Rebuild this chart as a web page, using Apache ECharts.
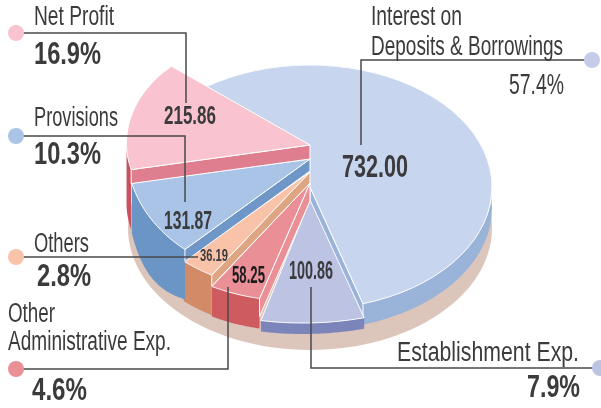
<!DOCTYPE html>
<html>
<head>
<meta charset="utf-8">
<title>Expenditure split</title>
<style>
html,body{margin:0;padding:0;background:#fff;overflow:hidden}
#chart{width:601px;height:408px}
</style>
<script src="https://cdn.jsdelivr.net/npm/echarts@6/dist/echarts.min.js"></script>
</head>
<body>
<div id="chart"></div>
<script>
// values, clockwise from the big slice
var sliceNames = ['Interest on Deposits & Borrowings', 'Establishment Exp.', 'Other Administrative Exp.', 'Others', 'Provisions', 'Net Profit'];
var sliceValues = [732.00, 100.86, 58.25, 36.19, 131.87, 215.86];
var slicePercents = ['57.4%', '7.9%', '4.6%', '2.8%', '10.3%', '16.9%'];

var START_DEG = -43.6;
var FONT = '"Liberation Sans Narrow","Liberation Sans",sans-serif';
var INK = '#3b3a3c';

// look of each slice: where its rim ellipse sits, how the walls hang, colours
var sliceLook = [
    {cx: 310, cy: 187, a: 182, b: 122, tipY: 187, side: 'end', drop: 20, wall: 21, bulge: 0, top: '#c7d5ef', sideColor: '#9ab3d9', wallColor: '#9ab3d9', dot: '#c5cbe8'},
    {cx: 303, cy: 201, a: 210, b: 122, tipY: 200, side: '', drop: 0, wall: 11, bulge: 0, top: '#bcc3e3', sideColor: '#7b85ba', wallColor: '#7b85ba', dot: '#bcc3e3'},
    {cx: 295, cy: 177, a: 177, b: 124, tipY: 183, side: 'start', drop: 18, wall: 30, bulge: 0, top: '#e98f95', sideColor: '#e98f95', wallColor: '#cd5b60', dot: '#e98f95'},
    {cx: 300, cy: 148, a: 188, b: 144, tipY: 172, side: 'start', drop: 11, wall: 40, bulge: 0, top: '#f9c3aa', sideColor: '#dea582', wallColor: '#d28b66', dot: '#f9c3aa'},
    {cx: 279, cy: 152, a: 152, b: 124, tipY: 159, side: 'start', drop: 12, wall: 50, bulge: 8, top: '#a9c4e6', sideColor: '#6e96c6', wallColor: '#6b95c5', dot: '#a9c4e6'},
    {cx: 271.5, cy: 143, a: 145, b: 106, tipY: 145, side: 'start', drop: 14, wall: 60, bulge: 0, wallSpan: 13, top: '#f9c4cf', sideColor: '#df7e8e', wallColor: '#c9515f', dot: '#f9c4cf'}
];
var TIP_X = 310;

// [text, x, mid y, font size, bold, width to fit, colour]
var textLabels = [
    ['Net Profit', 34, 18, 27, false, 80, INK],
    [slicePercents[5], 34, 55, 31, true, 67, INK],
    ['Provisions', 34, 119, 27, false, 84, INK],
    [slicePercents[4], 34, 155, 31, true, 67, INK],
    ['Others', 34, 245, 27, false, 55, INK],
    [slicePercents[3], 37, 277, 31, true, 54, INK],
    ['Other', 8, 315, 27, false, 47, INK],
    ['Administrative Exp.', 8, 343, 27, false, 163, INK],
    [slicePercents[2], 32, 391, 31, true, 55, INK],
    ['Interest on', 371, 18, 27, false, 91, INK],
    ['Deposits & Borrowings', 371, 48, 27, false, 192, INK],
    [slicePercents[0], 509, 86, 29, false, 55, INK],
    ['Establishment Exp.', 397, 354, 27, false, 182, INK],
    [slicePercents[1], 527, 388, 31, true, 53, INK],
    [sliceValues[5].toFixed(2), 164, 117, 26, true, 52, INK],
    [sliceValues[0].toFixed(2), 342, 168, 32, true, 66, INK],
    [sliceValues[4].toFixed(2), 164, 222, 26, true, 48, INK],
    [sliceValues[3].toFixed(2), 200, 256, 17, true, 28, INK],
    [sliceValues[2].toFixed(2), 232, 276, 24, true, 33, '#1d1c1e'],
    [sliceValues[1].toFixed(2), 289, 272, 26, true, 44, INK]
];

// leader lines, and the dot each one starts from
var leaderLines = [
    {look: 5, points: [[16, 33], [186, 33], [186, 103]]},
    {look: 4, points: [[16, 136], [185, 136], [185, 202]]},
    {look: 3, points: [[16, 257], [198, 257]]},
    {look: 2, points: [[16, 369], [228, 369], [228, 287]]},
    {look: 0, points: [[592, 60], [361, 60], [361, 145]]},
    {look: 1, points: [[600, 368], [311, 368], [311, 287]]}
];

var total = sliceValues.reduce(function (s, v) { return s + v; }, 0);

function rimPoint(look, deg, dy) {
    var t = deg * Math.PI / 180;
    return [look.cx + look.a * Math.sin(t), look.cy - look.b * Math.cos(t) + (dy || 0)];
}

function arcPoints(look, from, to, dyAt) {
    var out = [], n = 48, i;
    for (i = 0; i <= n; i++) {
        out.push(rimPoint(look, from + (to - from) * i / n, dyAt ? dyAt(i / n) : 0));
    }
    return out;
}

function renderBase() {
    return {
        type: 'ellipse',
        shape: {cx: 310, cy: 228, rx: 182, ry: 122},
        style: {fill: '#dcc5bb'}
    };
}

function renderSlice(params, api) {
    var idx = params.dataIndex;
    var look = sliceLook[idx];
    var before = 0, i;
    for (i = 0; i < idx; i++) before += sliceValues[i];
    var t0 = START_DEG + before / total * 360;
    var t1 = t0 + api.value(0) / total * 360;
    var kids = [];

    // outer wall
    var wallEnd = look.wallSpan ? t0 + look.wallSpan : t1;
    var upper = arcPoints(look, t0, wallEnd);
    var lower = arcPoints(look, t0, wallEnd, function (u) {
        return look.wall + look.bulge * Math.sin(Math.PI * u);
    }).reverse();
    kids.push({type: 'polygon', shape: {points: upper.concat(lower)}, style: {fill: look.wallColor}});

    // cut face of the slice
    if (look.side) {
        var at = look.side === 'start' ? t0 : t1;
        var c = rimPoint(look, at);
        kids.push({
            type: 'polygon',
            shape: {points: [[TIP_X, look.tipY], c, [c[0], c[1] + look.drop], [TIP_X, look.tipY + look.drop]]},
            style: {fill: look.sideColor, stroke: '#fff', lineWidth: 1}
        });
    }

    // top surface
    kids.push({
        type: 'polygon',
        shape: {points: [[TIP_X, look.tipY]].concat(arcPoints(look, t0, t1))},
        style: {fill: look.top, stroke: '#fff', lineWidth: 1, lineJoin: 'round'}
    });
    return {type: 'group', children: kids};
}

var measureCtx = document.createElement('canvas').getContext('2d');

function buildGraphic() {
    var els = [];
    leaderLines.forEach(function (l) {
        els.push({
            type: 'polyline', z: 10,
            shape: {points: l.points},
            style: {stroke: '#48484a', lineWidth: 1.5, fill: null}
        });
        els.push({
            type: 'circle', z: 11,
            shape: {cx: l.points[0][0], cy: l.points[0][1], r: 8},
            style: {fill: sliceLook[l.look].dot}
        });
    });
    textLabels.forEach(function (t) {
        var font = (t[4] ? 'bold ' : '') + t[3] + 'px ' + FONT;
        measureCtx.font = font;
        els.push({
            type: 'text', z: 12,
            x: t[1], y: t[2],
            scaleX: t[5] / measureCtx.measureText(t[0]).width,
            style: {text: t[0], font: font, fill: t[6], textAlign: 'left', textVerticalAlign: 'middle'}
        });
    });
    return els;
}

var chart = echarts.init(document.getElementById('chart'), null, {renderer: 'canvas'});
chart.setOption({
    animation: false,
    backgroundColor: '#fff',
    graphic: {elements: buildGraphic()},
    series: [
        {type: 'custom', coordinateSystem: 'none', silent: true, data: [[total]], renderItem: renderBase},
        {
            type: 'custom', coordinateSystem: 'none', silent: true,
            data: sliceValues.map(function (v, i) { return {name: sliceNames[i], value: [v]}; }),
            renderItem: renderSlice
        }
    ]
});
</script>
</body>
</html>
